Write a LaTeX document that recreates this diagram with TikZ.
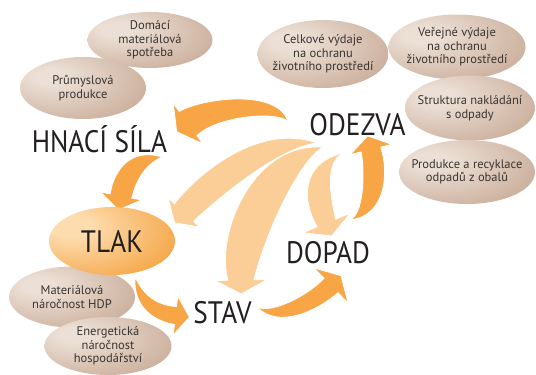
\documentclass[tikz,border=0pt]{standalone}
\usepackage{fontspec}
\setmainfont{PT Sans}
\newfontfamily\stagefont[FakeStretch=0.88]{PT Sans}
\usepackage{tikz}
\usetikzlibrary{calc}
\usetikzlibrary{shapes.geometric}
\usetikzlibrary{backgrounds}
\definecolor{flowColor}{HTML}{F7A545}
\definecolor{flowLightColor}{HTML}{FBCD97}
\definecolor{factorLight}{HTML}{ECE0D6}
\definecolor{factorDark}{HTML}{C09E88}
\definecolor{pressureLight}{HTML}{FDDCAE}
\definecolor{pressureDark}{HTML}{F29220}
\definecolor{labelColor}{HTML}{231F20}
\definecolor{factorText}{HTML}{3A3430}
\pgfdeclareradialshading{factorShade}{\pgfpoint{-14bp}{10bp}}{color(0bp)=(factorLight); color(6bp)=(factorLight); color(48bp)=(factorDark); color(100bp)=(factorDark)}
\pgfdeclareradialshading{pressureShade}{\pgfpoint{-18bp}{12bp}}{color(0bp)=(pressureLight); color(8bp)=(pressureLight); color(52bp)=(pressureDark); color(100bp)=(pressureDark)}
% tapered arrow: style, tail, c1, c2, head base, control offset, shaft half width, head half width
\newcommand{\swoosh}[8]{%
	\fill[#1] (#2)
		.. controls ($(#3)!#6!90:(#4)$) and ($(#4)!#6!90:(#5)$) .. ($(#5)!#7!-90:(#4)$)
		-- ($(#5)!#8!-90:(#4)$) -- ($(#5)!14pt!180:(#4)$) -- ($(#5)!#8!90:(#4)$)
		-- ($(#5)!#7!90:(#4)$)
		.. controls ($(#4)!#6!-90:(#5)$) and ($(#3)!#6!-90:(#4)$) .. (#2) -- cycle;}

\begin{document}
\begin{tikzpicture}[
		x=1pt, y=-1pt,
		factor/.style={ellipse, inner xsep=-8pt, inner ysep=-3pt, shade, shading=factorShade, text=factorText, align=center, font=\fontsize{12.5}{13.6}\selectfont},
		pressure/.style={ellipse, inner sep=0pt, shade, shading=pressureShade, text=labelColor, font=\stagefont\fontsize{31}{31}\selectfont},
		stage/.style={anchor=base, inner sep=0pt, text=labelColor, font=\stagefont\fontsize{31}{31}\selectfont},
		flow/.style={fill=flowColor, draw=white, line width=0.8pt},
		flow light/.style={fill=flowLightColor, draw=white, line width=0.8pt},
	]
	\useasboundingbox (0,0) rectangle (536,375);
	% Driving force factors
	\node[factor, minimum width=125, minimum height=56] (spotreba) at (150,40) {Domácí\\materiálová\\spotřeba};
	\node[factor, minimum width=126, minimum height=62] (produkce) at (83,88) {Průmyslová\\produkce};
	% Response factors
	\node[factor, minimum width=131, minimum height=68] (celkove) at (323,54) {Celkové výdaje\\na ochranu\\životního prostředí};
	\node[factor, minimum width=137, minimum height=65] (verejne) at (457,47) {Veřejné výdaje\\na ochranu\\životního prostředí};
	\node[factor, minimum width=130, minimum height=65] (struktura) at (470,108) {Struktura nakládání\\s odpady};
	\node[factor, minimum width=136, minimum height=64] (obaly) at (467,172) {Produkce a recyklace\\odpadů z obalů};
	% Pressure factors
	\node[factor, minimum width=126, minimum height=61] (hdp) at (72,297) {Materiálová\\náročnost HDP};
	\node[factor, minimum width=127, minimum height=58] (energie) at (108,346) {Energetická\\náročnost\\hospodářství};
	\node[pressure, minimum width=126, minimum height=68] (tlak) at (112,241) {TLAK};
	% Stages
	\node[stage] (hnaci) at (99.5,152) {HNACÍ SÍLA};
	\node[stage] (odezva) at (357.5,135) {ODEZVA};
	\node[stage] (stav) at (222.5,323) {STAV};
	\node[stage] (dopad) at (328,263) {DOPAD};
	% Arrows
	\begin{scope}[on background layer]
		\swoosh{flow light}{317,143}{270,135}{211,183}{184,212.5}{16pt}{13pt}{21.5pt}
		\swoosh{flow light}{323,147}{275,152}{240,235}{241,280}{25pt}{13pt}{26pt}
		\swoosh{flow light}{347,152}{310,160}{317,200}{326.5,223}{14pt}{10pt}{25.5pt}
		\swoosh{flow}{288,122}{280,100}{212,106}{188,123.5}{11pt}{15pt}{25pt}
		\swoosh{flow}{162,157}{140,155}{125.6,172.5}{121,196}{12pt}{11pt}{21pt}
		\swoosh{flow}{135,277}{138,300}{154,313}{175.5,315.5}{8pt}{9pt}{19.5pt}
		\swoosh{flow}{257,307}{275,322}{313,303}{331,285.5}{9pt}{10pt}{24.5pt}
		\swoosh{flow}{350,220}{375,215}{377,174}{371,149.5}{12pt}{10pt}{21.5pt}
	\end{scope}
\end{tikzpicture}
\end{document}
